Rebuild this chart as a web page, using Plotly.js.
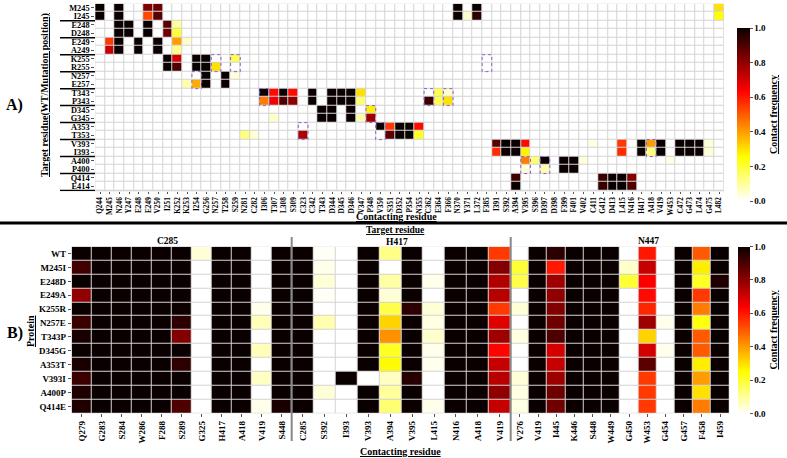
<!DOCTYPE html>
<html><head><meta charset="utf-8">
<script src="https://cdn.plot.ly/plotly-3.0.1.min.js"></script>
<style>html,body{margin:0;padding:0;background:#fff}#chart{width:787px;height:458px}</style>
</head><body><div id="chart"></div>
<script>
// ---------- Panel A data ----------
const topRows = ['M245','I245','E248','D248','E249','A249','K255','R255','N257','E257','T343','P343','D345','G345','A353','T353','V393','I393','A400','P400','Q414','E414'];
const topCols = ['Q244','M245','N246','Y247','E248','E249','V250','I251','K252','K253','I254','G256','N257','T258','S259','N281','C282','I306','T307','L308','S309','C323','C342','T343','D344','D345','D346','V347','P348','V350','S351','D352','P354','N355','C362','E364','F366','N370','Y371','L372','F385','I391','S392','A394','V395','S396','D397','D398','F399','F401','V402','C411','G412','D413','L415','N416','H417','A418','V419','W453','C472','G473','L474','G475','L482'];
// [target row, contacting residue, frequency]; all other cells are 0
const topContacts = [
 ['M245','Q244',1],['M245','N246',1],['M245','E249',0.82],['M245','V250',0.85],['M245','N370',1],['M245','L372',1],['M245','L482',0.3],
 ['I245','Q244',1],['I245','N246',1],['I245','E249',0.53],['I245','V250',0.88],['I245','N370',1],['I245','Y371',0.05],['I245','L372',0.95],['I245','L482',0.25],
 ['E248','N246',1],['E248','Y247',1],['E248','E249',1],['E248','I251',0.88],['E248','K252',0.1],
 ['D248','N246',1],['D248','Y247',1],['D248','E249',1],['D248','I251',0.85],['D248','K252',0.2],
 ['E249','M245',0.55],['E249','N246',1],['E249','E248',1],['E249','V250',1],['E249','K252',0.4],['E249','K253',0.05],
 ['A249','M245',0.72],['A249','N246',1],['A249','E248',1],['A249','V250',1],['A249','K252',0.12],
 ['K255','I251',1],['K255','K252',0.7],['K255','I254',1],['K255','G256',1],['K255','S259',0.17],
 ['R255','I251',1],['R255','K252',0.9],['R255','I254',1],['R255','G256',1],['R255','N257',0.3],
 ['N257','G256',1],['N257','T258',1],['N257','S259',0.04],
 ['E257','K253',0.08],['E257','I254',0.38],['E257','G256',1],['E257','T258',1],
 ['T343','I306',1],['T343','T307',0.62],['T343','L308',1],['T343','S309',0.62],['T343','C342',1],['T343','D344',1],['T343','D345',1],['T343','D346',1],['T343','V347',0.3],['T343','E364',0.18],['T343','F366',0.05],
 ['P343','I306',0.45],['P343','T307',0.65],['P343','L308',0.9],['P343','S309',0.8],['P343','C342',1],['P343','D344',1],['P343','D345',1],['P343','D346',1],['P343','V347',0.14],['P343','C362',0.93],['P343','E364',0.18],['P343','F366',0.3],
 ['D345','T343',1],['D345','D344',1],['D345','D346',1],['D345','P348',0.28],
 ['G345','T307',0.05],['G345','T343',1],['G345','D344',1],['G345','D346',1],['G345','V347',0.08],['G345','P348',0.78],
 ['A353','V350',1],['A353','S351',0.55],['A353','D352',1],['A353','P354',1],['A353','N355',0.62],
 ['T353','N281',0.13],['T353','C282',0.04],['T353','C323',0.76],['T353','S351',0.88],['T353','D352',1],['T353','P354',1],['T353','N355',0.22],
 ['V393','I391',0.88],['V393','S392',1],['V393','A394',1],['V393','V395',0.62],['V393','C411',0.03],['V393','L415',0.55],['V393','H417',1],['V393','A418',0.4],['V393','V419',1],['V393','C472',1],['V393','G473',1],['V393','L474',1],['V393','G475',0.04],
 ['I393','I391',0.57],['I393','S392',1],['I393','A394',1],['I393','V395',0.27],['I393','L415',0.57],['I393','H417',1],['I393','A418',0.13],['I393','V419',1],['I393','C472',1],['I393','G473',1],['I393','L474',1],['I393','G475',0.04],
 ['A400','V395',0.45],['A400','S396',0.14],['A400','D397',1],['A400','F399',1],['A400','F401',1],['A400','V402',0.04],['A400','W453',0.03],
 ['P400','V395',0.04],['P400','D397',0.08],['P400','F399',1],['P400','F401',1],
 ['Q414','A394',0.92],['Q414','G412',0.93],['Q414','D413',1],['Q414','L415',1],['Q414','N416',0.82],
 ['E414','A394',1],['E414','G412',0.93],['E414','D413',1],['E414','L415',1],['E414','N416',0.9]
];
// highlighted (dashed) cell pairs: [contacting residue, WT row, mutant row]
const topBoxes = [['N257','K255','R255'],['S259','K255','R255'],['I254','N257','E257'],['I306','T343','P343'],['C323','A353','T353'],['P348','D345','G345'],['V350','A353','T353'],['C362','T343','P343'],['F366','T343','P343'],['F385','K255','R255'],['V395','A400','P400'],['D397','A400','P400'],['A418','V393','I393']];
// ---------- Panel B data ----------
const proteins = ['WT','M245I','E248D','E249A','K255R','N257E','T343P','D345G','A353T','V393I','A400P','Q414E'];
const c285Cols = ['Q279','G283','S284','W286','F288','S289','G325','H417','A418','V419','S448'];
const c285Z = [
 [1,1,1,1,1,1,0.04,1,1,0,1],
 [0.92,1,1,1,1,1,0,1,1,0,1],
 [1,1,1,1,1,1,0,1,1,0,1],
 [0.8,1,1,1,1,1,0,1,1,0,1],
 [1,1,1,1,1,1,0,1,1,0.02,1],
 [0.93,1,1,1,1,0.95,0,1,1,0.07,1],
 [0.98,1,1,1,1,0.82,0,1,1,0,1],
 [1,1,1,1,1,1,0,1,1,0.07,1],
 [0.98,1,1,1,1,0.95,0,1,1,0,1],
 [0.93,1,1,1,1,1,0,1,1,0.06,1],
 [0.97,1,1,1,1,1,0,1,1,0,1],
 [0.97,1,1,1,1,0.9,0,1,1,0.02,0.98]
];
const h417Cols = ['C285','S392','I393','V393','A394','V395','L415','N416','A418','V419'];
const h417Z = [
 [1,0.01,0,1,0.12,1,0,1,1,0.55],
 [1,0.02,0,1,0,1,0,1,1,0.82],
 [1,0.04,0,1,0.09,1,0.02,1,1,0.75],
 [1,0.01,0,1,0.04,1,0,1,1,0.74],
 [1,0,0,1,0.18,0.95,0.04,1,1,0.55],
 [1,0.08,0,1,0.32,1,0.03,1,1,0.68],
 [1,0,0,1,0.42,1,0.05,1,1,0.78],
 [1,0,0,1,0.22,1,0.02,1,1,0.63],
 [1,0,0,1,0.26,1,0.02,1,1,0.72],
 [1,0,1,0,0.06,0.96,0,1,1,0.74],
 [1,0.04,0,1,0.1,1,0,1,1,0.8],
 [1,0,0,1,0.14,1,0.02,1,1,0.72]
];
const n447Cols = ['V276','V419','I445','K446','S448','W449','G450','W453','G454','G457','F458','I459'];
const n447Z = [
 [0,1,0.95,1,1,1,0,0.6,0,1,0.5,1],
 [0.2,1,0.6,1,1,1,0.05,0.72,0,1,0.28,1],
 [0.18,1,0.78,1,1,1,0.2,0.64,0,1,0.22,0.97],
 [0,1,0.8,1,1,1,0,0.62,0,1,0.55,1],
 [0.04,1,0.82,1,1,1,0,0.58,0,1,0.45,1],
 [0,1,0.85,1,1,1,0,0.78,0.02,1,0.24,1],
 [0.03,1,0.9,1,1,1,0,0.32,0,1,0.5,1],
 [0,1,0.7,1,1,1,0,0.7,0.02,1,0.5,1],
 [0,1,0.72,1,1,1,0,0.88,0,1,0.28,1],
 [0.04,1,0.78,1,1,1,0,0.55,0,1,0.4,1],
 [0.03,1,0.85,1,1,1,0,0.55,0,1,0.3,1],
 [0.03,1,0.85,1,1,1,0,0.55,0,1,0.45,1]
];

// ---------- build ----------
const W = 787, H = 458;
const px = v => v / W, py = v => 1 - v / H;
const hotR = [[0,'#ffffff'],[0.254,'#ffff00'],[0.635,'#ff0000'],[1,'#0b0000']];
const SERIF = 'Liberation Serif';
const fnt = (s) => ({family: SERIF, size: s, color: '#000', weight: 'bold'});

const topZ = topRows.map(() => topCols.map(() => 0));
topContacts.forEach(([r, c, v]) => { topZ[topRows.indexOf(r)][topCols.indexOf(c)] = v; });

const cbCommon = (y, len, x, th) => ({
  x: x, xanchor: 'left', y: y, yanchor: 'middle', len: len, lenmode: 'fraction', thickness: th,
  outlinewidth: 0, xpad: 0, ypad: 0, ticks: 'outside', ticklen: 3, tickcolor: '#555',
  tickvals: [0,0.2,0.4,0.6,0.8,1], ticktext: ['0.0','0.2','0.4','0.6','0.8','1.0'],
  tickfont: fnt(9),
  title: {text: '<u>Contact frequency</u>', side: 'right', font: fnt(10)}
});

const traces = [
  {type: 'heatmap', x: topCols, y: topRows, z: topZ, xaxis: 'x', yaxis: 'y',
   colorscale: hotR, zmin: 0, zmax: 1, xgap: 1, ygap: 1,
   colorbar: cbCommon(py(114.5), 173/H, px(737), 13)},
  {type: 'heatmap', x: c285Cols, y: proteins, z: c285Z, xaxis: 'x2', yaxis: 'y2',
   colorscale: hotR, zmin: 0, zmax: 1, xgap: 1, ygap: 1,
   colorbar: cbCommon(py(330), 166.6/H, px(738), 12)},
  {type: 'heatmap', x: h417Cols, y: proteins, z: h417Z, xaxis: 'x3', yaxis: 'y3',
   colorscale: hotR, zmin: 0, zmax: 1, xgap: 1, ygap: 1, showscale: false},
  {type: 'heatmap', x: n447Cols, y: proteins, z: n447Z, xaxis: 'x4', yaxis: 'y4',
   colorscale: hotR, zmin: 0, zmax: 1, xgap: 1, ygap: 1, showscale: false}
];

const axBase = {type: 'category', showgrid: false, zeroline: false, showline: false, automargin: false,
  ticks: 'outside', ticklen: 3, tickcolor: '#555', fixedrange: true};
const allTicks = arr => ({tickmode: 'array', tickvals: arr, ticktext: arr});
const yDomB = [py(413.3), py(246.7)];
const layout = {
  width: W, height: H, margin: {l: 0, r: 0, t: 0, b: 0},
  paper_bgcolor: '#ffffff', plot_bgcolor: '#d4d4d4',
  font: {family: SERIF, size: 9, color: '#000'},
  showlegend: false,
  xaxis: Object.assign({}, axBase, allTicks(topCols), {domain: [px(95.2), px(723.9)], anchor: 'y', tickangle: -90, tickfont: fnt(7.3), ticklen: 2}),
  yaxis: Object.assign({}, axBase, allTicks(topRows), {domain: [py(191.3), py(3.7)], anchor: 'x', autorange: 'reversed', tickfont: fnt(8.3)}),
  xaxis2: Object.assign({}, axBase, allTicks(c285Cols), {domain: [px(71.7), px(291.7)], anchor: 'y2', tickangle: -90, tickfont: fnt(9)}),
  yaxis2: Object.assign({}, axBase, allTicks(proteins), {domain: yDomB, anchor: 'x2', autorange: 'reversed', tickfont: fnt(9)}),
  xaxis3: Object.assign({}, axBase, allTicks(h417Cols), {domain: [px(291.7), px(510.7)], anchor: 'y3', tickangle: -90, tickfont: fnt(9)}),
  yaxis3: Object.assign({}, axBase, {domain: yDomB, anchor: 'x3', autorange: 'reversed', showticklabels: false, ticks: ''}),
  xaxis4: Object.assign({}, axBase, allTicks(n447Cols), {domain: [px(510.7), px(729.3)], anchor: 'y4', tickangle: -90, tickfont: fnt(9)}),
  yaxis4: Object.assign({}, axBase, {domain: yDomB, anchor: 'x4', autorange: 'reversed', showticklabels: false, ticks: ''}),
  shapes: [],
  annotations: []
};

// pair separators under the panel A row labels
for (let k = 1; k <= topRows.length / 2; k++) {
  layout.shapes.push({type: 'line', xref: 'paper', yref: 'y', x0: px(60), x1: px(95), y0: 2*k - 0.5, y1: 2*k - 0.5,
    line: {color: '#000', width: 1.5}});
}
// dashed highlight boxes
topBoxes.forEach(([c, r1, r2]) => {
  const ci = topCols.indexOf(c), ri = Math.min(topRows.indexOf(r1), topRows.indexOf(r2));
  layout.shapes.push({type: 'rect', xref: 'x', yref: 'y', x0: ci - 0.5, x1: ci + 0.5, y0: ri - 0.5, y1: ri + 1.5,
    line: {color: '#8a5fc8', width: 1, dash: 'dot'}, fillcolor: 'rgba(0,0,0,0)', layer: 'above'});
});
// divider between panels
layout.shapes.push({type: 'line', xref: 'paper', yref: 'paper', x0: 0, x1: 1, y0: py(223), y1: py(223), line: {color: '#000', width: 3}});
// group separators in panel B
[291.7, 510.7].forEach(xv => layout.shapes.push({type: 'line', xref: 'paper', yref: 'paper', x0: px(xv), x1: px(xv), y0: py(441), y1: py(237), line: {color: '#888', width: 2}}));

const ann = (x, y, text, size, angle) => ({xref: 'paper', yref: 'paper', x: px(x), y: py(y), text: text, showarrow: false,
  font: fnt(size), textangle: angle || 0, xanchor: 'center', yanchor: 'middle'});
layout.annotations.push(
  ann(14, 105, 'A)', 16),
  ann(15, 333, 'B)', 16),
  ann(45, 95, '<u>Target residue(WT/Mutation position)</u>', 10, -90),
  ann(396, 217, '<u>Contacting residue</u>', 10),
  ann(395, 230, '<u>Target residue</u>', 9.5),
  ann(167, 241, 'C285', 9.5),
  ann(397, 241.5, 'H417', 9.5),
  ann(648, 241, 'N447', 9.5),
  ann(30, 331, '<u>Protein</u>', 10, -90),
  ann(401, 451, '<u>Contacting residue</u>', 10)
);

Plotly.newPlot('chart', traces, layout, {staticPlot: true, displayModeBar: false});
</script>
</body></html>
